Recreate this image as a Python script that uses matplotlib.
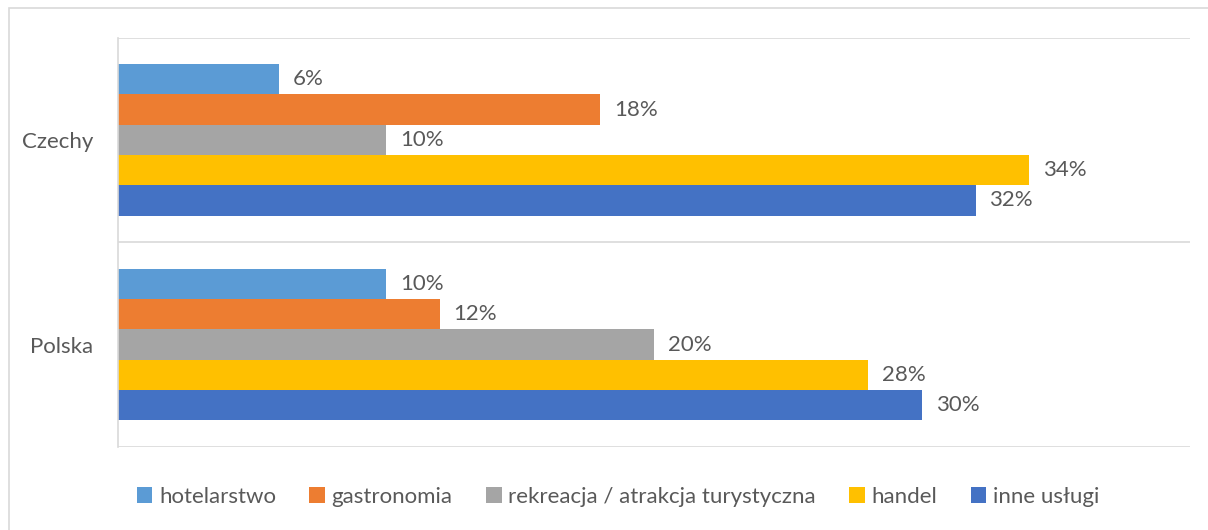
import matplotlib
matplotlib.use("Agg")
import matplotlib.pyplot as plt
from matplotlib.patches import Patch, Rectangle
import numpy as np

plt.rcParams['font.family'] = ['Lato', 'DejaVu Sans']

# data
countries = ["Czechy", "Polska"]
series = ["hotelarstwo", "gastronomia", "rekreacja / atrakcja turystyczna", "handel", "inne usługi"]
colors = ["#5B9BD5", "#ED7D31", "#A5A5A5", "#FFC000", "#4472C4"]
czechy = [0.06, 0.18, 0.10, 0.34, 0.32]
polska = [0.10, 0.12, 0.20, 0.28, 0.30]

values = np.array([czechy, polska])  # rows: countries, cols: series
text_col = "#595959"
fs = 16

fig = plt.figure(figsize=(12.08, 5.30), dpi=100)
W, H = 1208, 530
ax = fig.add_axes([118 / W, 1 - 447 / H, (1190 - 118) / W, (447 - 37.5) / H])

# chart frame (only top/left visible in the crop)
fig.patches.append(Rectangle((9 / W, -0.05), 1.2, 1 - 8 / H + 0.05, transform=fig.transFigure,
                             fill=False, edgecolor="#D9D9D9", linewidth=1.2))

n = len(series)
bh = 0.148
y = np.arange(len(countries))
for i in range(n):
    pos = y - bh * (n - 1) / 2 + i * bh
    ax.barh(pos, values[:, i], height=bh, color=colors[i], label=series[i])
    for p, v in zip(pos, values[:, i]):
        ax.annotate(f"{v*100:.0f}%", (v, p), xytext=(10, 0), textcoords="offset points",
                    va="center", ha="left", fontsize=fs, color=text_col)

ax.set_xlim(0, 0.40)
ax.set_ylim(1.5, -0.5)
ax.set_yticks(y)
ax.set_yticklabels(countries, fontsize=fs, color=text_col)
ax.tick_params(axis="y", length=0, pad=18)
ax.set_xticks([])
for yy in [-0.5, 0.5, 1.5]:
    ax.axhline(yy, color="#D9D9D9", linewidth=1.2, zorder=0)
for s in ["top", "right", "bottom"]:
    ax.spines[s].set_visible(False)
ax.spines["left"].set_color("#D9D9D9")
ax.spines["left"].set_linewidth(1.2)

handles = [Patch(facecolor=c, edgecolor="none") for c in colors]
fig.legend(handles, series, loc="center", bbox_to_anchor=(618 / W, 1 - 497 / H), ncol=5,
           frameon=False, fontsize=fs, labelcolor=text_col, handlelength=0.7, handleheight=0.7,
           handletextpad=0.3, columnspacing=1.5)

fig.savefig("out.png", dpi=100)
